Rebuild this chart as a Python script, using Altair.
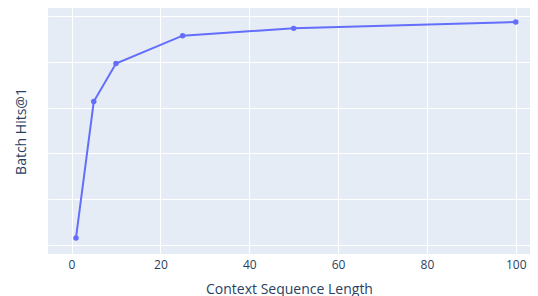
import altair as alt
import pandas as pd

context_len = [1, 5, 10, 25, 50, 100]
hits_at_1 = [0.215, 0.513, 0.596, 0.657, 0.673, 0.687]
x_ticks = [0, 20, 40, 60, 80, 100]
y_ticks = [0.2, 0.3, 0.4, 0.5, 0.6, 0.7]

df = pd.DataFrame({"x": context_len, "y": hits_at_1})

FONT = "Open Sans"
TXT = "#2a3f5f"

x_enc = alt.X("x:Q", title="Context Sequence Length",
              scale=alt.Scale(domain=[-5.3, 103.2], nice=False, zero=False),
              axis=alt.Axis(values=x_ticks, grid=True, gridColor="white", gridWidth=1,
                            domain=False, ticks=False, labelPadding=5, labelFontSize=12,
                            labelColor=TXT, titleColor=TXT, titleFontSize=14,
                            titleFontWeight="normal", titlePadding=12, labelFont=FONT,
                            titleFont=FONT))
y_enc = alt.Y("y:Q", title="Batch Hits@1",
              scale=alt.Scale(domain=[0.180, 0.7175], nice=False, zero=False),
              axis=alt.Axis(values=y_ticks, grid=True, gridColor="white", gridWidth=1,
                            domain=False, ticks=False, labels=False,
                            titleColor=TXT, titleFontSize=14, titleFontWeight="normal",
                            titlePadding=20, titleFont=FONT))

base = alt.Chart(df).encode(x=x_enc, y=y_enc)
line = base.mark_line(color="#636EFA", strokeWidth=2)
pts = base.mark_point(color="#636EFA", filled=True, opacity=1, size=30)

chart = (line + pts).properties(
    width=482, height=246,
    autosize=alt.AutoSizeParams(type="none"),
    padding={"left": 40, "top": 0, "right": 0, "bottom": 42},
).configure_view(fill="#E5ECF6", stroke=None)

chart.save("out.html", embed_options={"renderer": "svg", "actions": False})
